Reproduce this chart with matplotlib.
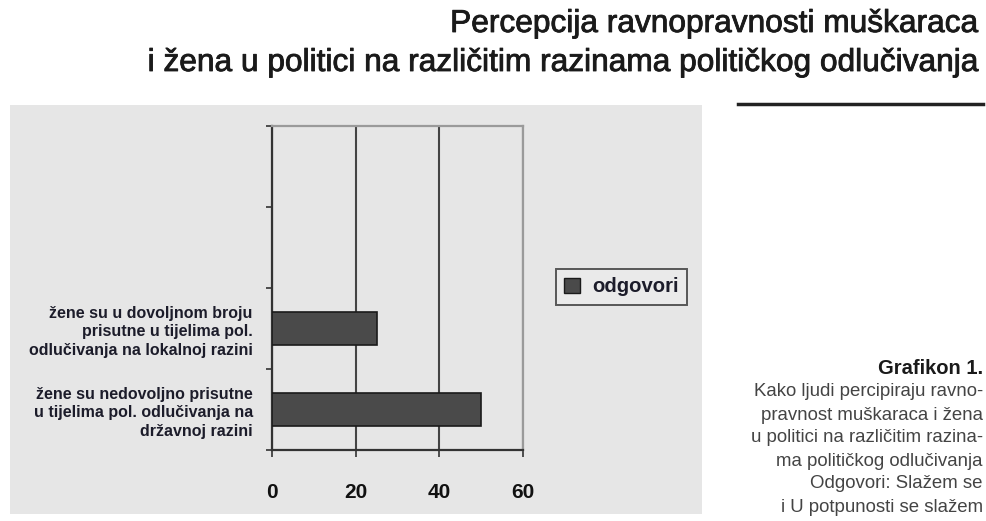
import matplotlib
matplotlib.use("Agg")
import matplotlib.pyplot as plt
from matplotlib.patches import Rectangle
from matplotlib.lines import Line2D
from matplotlib import font_manager
import matplotlib.patheffects as pe

names = {f.name for f in font_manager.fontManager.ttflist}
narrow = "Liberation Sans Narrow" if "Liberation Sans Narrow" in names else "Liberation Sans"

# ---- data ----
categories = [
    "žene su nedovoljno prisutne\nu tijelima pol. odlučivanja na\ndržavnoj razini",
    "žene su u dovoljnom broju\nprisutne u tijelima pol.\nodlučivanja na lokalnoj razini",
]
values = [50, 25]
n_slots = 4
xticks = [0, 20, 40, 60]
series_name = "odgovori"
title_lines = ["Percepcija ravnopravnosti muškaraca",
               "i žena u politici na različitim razinama političkog odlučivanja"]
caption_title = "Grafikon 1."
caption_lines = ["Kako ljudi percipiraju ravno-",
                 "pravnost muškaraca i žena",
                 "u politici na različitim razina-",
                 "ma političkog odlučivanja",
                 "Odgovori: Slažem se",
                 "i U potpunosti se slažem"]

W, H = 986, 521
fig = plt.figure(figsize=(W / 100, H / 100), dpi=100)
fig.patch.set_facecolor("white")

def fx(px):
    return px / W

def fy(py):
    return 1 - py / H

# grey panel (background axes)
bg = fig.add_axes([fx(10), fy(514), fx(702) - fx(10), fy(105) - fy(514)])
bg.set_facecolor("#e6e6e6")
bg.set_xticks([]); bg.set_yticks([])
for s in bg.spines.values():
    s.set_visible(False)
bg.set_zorder(0)

ax = fig.add_axes([fx(272.3), fy(450), fx(523) - fx(272.3), fy(125.7) - fy(450)])
ax.set_zorder(2)
ax.patch.set_alpha(0)

ypos = [i + 0.5 for i in range(len(values))]
ax.barh(ypos, values, height=0.41, color="#4a4a4a", edgecolor="#1a1a1a",
        linewidth=1.2, zorder=3)

ax.set_xlim(xticks[0], xticks[-1])
ax.set_ylim(0, n_slots)
ax.set_xticks(xticks)
ax.set_xticklabels([str(t) for t in xticks], fontsize=15, fontweight="bold",
                   family=[narrow, "Liberation Sans"], color="#111")
ax.tick_params(axis="x", length=5, width=1.2, color="#333", pad=19, direction="out")
ax.xaxis.grid(True, color="#444", linewidth=1.5, zorder=1)
ax.set_axisbelow(True)

ax.set_yticks(ypos)
ax.set_yticklabels(categories, fontsize=11.5, family=[narrow, "DejaVu Sans"],
                   color="#1c1c2a", fontweight="bold", linespacing=1.3)
ax.tick_params(axis="y", length=0, pad=14)
ax.set_yticks(range(n_slots + 1), minor=True)
ax.tick_params(axis="y", which="minor", length=4, width=1.2, color="#333")

for s in ["left", "bottom"]:
    ax.spines[s].set_color("#333")
    ax.spines[s].set_linewidth(1.6)
for s in ["top", "right"]:
    ax.spines[s].set_color("#9a9a9a")
    ax.spines[s].set_linewidth(1.6)

# legend
handle = Rectangle((0, 0), 1, 1, facecolor="#4a4a4a", edgecolor="#1a1a1a", linewidth=1)
leg = fig.legend([handle], [series_name], loc="center", bbox_to_anchor=(fx(621.5), fy(287)),
                 frameon=True, fancybox=False, handlelength=0.8, handleheight=0.8,
                 handletextpad=0.6, borderpad=0.4,
                 prop={"family": "Liberation Sans", "weight": "bold", "size": 14.6})
leg.get_frame().set_edgecolor("#333")
leg.get_frame().set_linewidth(1.4)
leg.get_frame().set_facecolor("#ececec")
leg.set_zorder(5)
for t in leg.get_texts():
    t.set_color("#1c1c2a")

# title
stroke = [pe.withStroke(linewidth=0.6, foreground="#1a1a1a")]
fig.text(fx(978), fy(24), title_lines[0], ha="right", va="center", fontsize=22.8,
         family="Liberation Sans", color="#1a1a1a", path_effects=stroke)
fig.text(fx(978), fy(63), title_lines[1], ha="right", va="center", fontsize=22.8,
         family="Liberation Sans", color="#1a1a1a", path_effects=stroke)
fig.lines.append(Line2D([fx(738), fx(983)], [fy(104), fy(104)], transform=fig.transFigure,
                        color="#222", linewidth=2.5))

# caption
fig.text(fx(983), fy(369), caption_title, ha="right", va="center", fontsize=14.5,
         fontweight="bold", family="Liberation Sans", color="#1a1a1a")
for i, line in enumerate(caption_lines):
    fig.text(fx(983), fy(392 + i * 23), line, ha="right", va="center", fontsize=13.4,
             family="Liberation Sans", color="#444")

fig.savefig("out.png", dpi=100, facecolor="white")
